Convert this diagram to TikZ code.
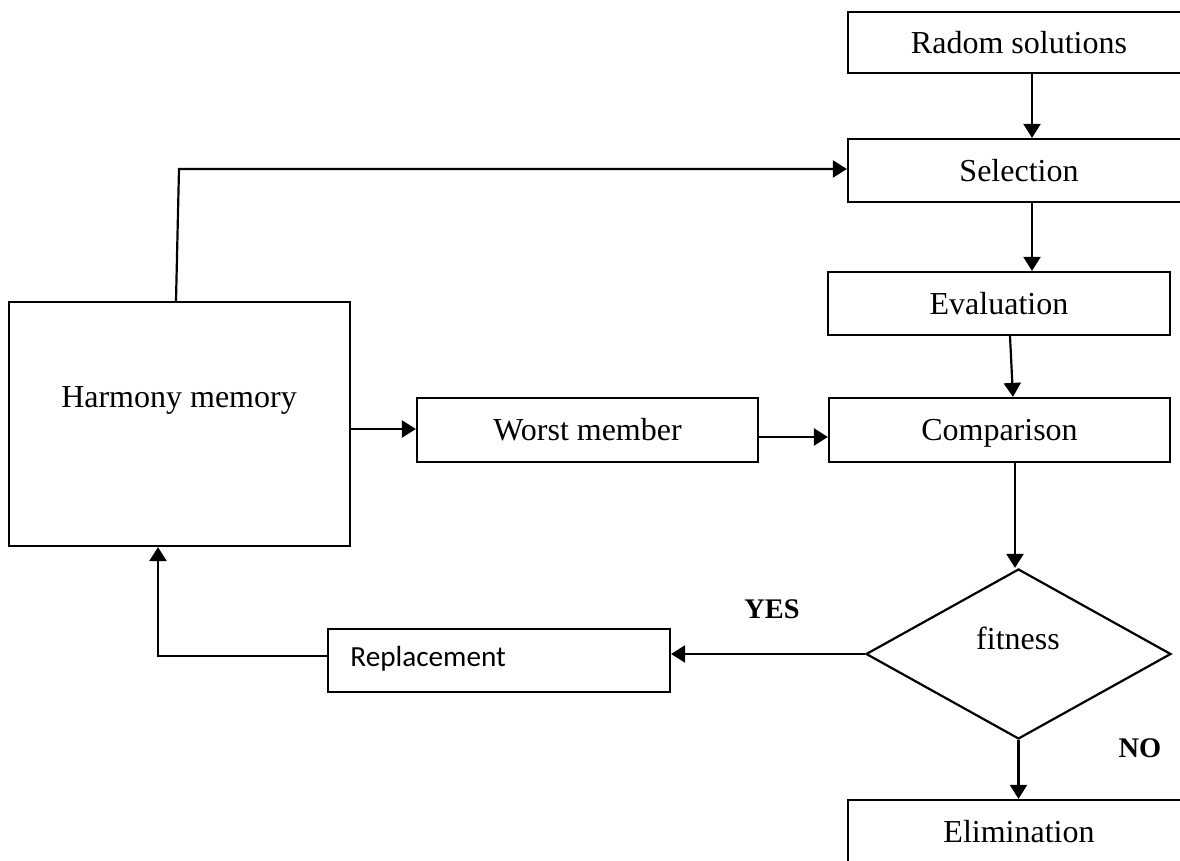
\documentclass[tikz,border=0pt]{standalone}
\usepackage{fontspec}
\setmainfont{Liberation Serif}
\newfontfamily\calib{Carlito}
\usetikzlibrary{shapes.geometric,arrows.meta,calc}
\tikzset{
  box/.style={draw, line width=1.1pt, rectangle, inner sep=0pt, minimum width=171pt, minimum height=31.5pt, text height=12.5pt, text depth=1.5pt, font=\fontsize{16}{19}\selectfont},
  lbl/.style={inner sep=0pt, font=\fontsize{16}{19}\selectfont},
  yn/.style={inner sep=0pt, font=\fontsize{14.2}{17}\selectfont\bfseries},
  arr/.style={line width=1.1pt, -{Triangle[length=7pt,width=8.5pt]}},
  ln/.style={line width=1.1pt}
}
\begin{document}
\begin{tikzpicture}[x=0.5pt,y=-0.5pt]
\useasboundingbox (0,0) rectangle (1180,861);
\clip (0,0) rectangle (1180,861);
\node[box, minimum height=30.5pt] (rad) at (1019,42.5) {Radom solutions};
\node[box] (sel) at (1019,170.5) {Selection};
\node[box] (eva) at (999,303.5) {Evaluation};
\node[box, minimum width=170.5pt, minimum height=32pt] (com) at (999.5,430) {Comparison};
\node[box, minimum width=170.5pt, minimum height=122pt] (hm) at (179.5,424) {};
\node[lbl] (hmt) at (179,400) {Harmony memory};
\node[box, minimum width=170.5pt, minimum height=32pt] (wm) at (587.5,430) {Worst member};
\node[draw, line width=1.1pt, diamond, inner sep=0pt, minimum width=152.5pt, minimum height=85pt] (fit) at (1018.5,654) {};
\node[lbl] (fitt) at (1018,638) {fitness};
\node[box] (rep) at (499,660.5) {};
\node[inner sep=0pt, anchor=west, font=\calib\fontsize{14.6}{17}\selectfont] (rept) at (350,659) {Replacement};
\node[box, minimum height=31pt] (eli) at (1019,831) {Elimination};
\node[yn] (yes) at (772,609) {YES};
\node[yn] (no) at (1140,748) {NO};
\coordinate (bend) at (179,169);

\draw[arr] ([xshift=6.5pt]rad.south) -- ([xshift=6.5pt]sel.north);
\draw[arr] ([xshift=6.5pt]sel.south) -- ([xshift=16.5pt]eva.north);
\draw[arr] ([xshift=5.5pt]eva.south) -- ([xshift=6.75pt]com.north);
\draw[arr] ([xshift=-1.75pt]hm.north) -- (bend) -- (bend -| sel.west);
\draw[arr] ([yshift=-2.5pt]hm.east) -- ([yshift=-2.5pt]hm.east -| wm.west);
\draw[arr] ([yshift=-3.5pt]wm.east) -- ([yshift=-3.5pt]wm.east -| com.west);
\draw[arr] ([xshift=7.75pt]com.south) -- ([xshift=7.75pt]com.south |- fit.north);
\draw[arr] (fit.west) -- (fit.west -| rep.east);
\draw[arr] ([yshift=2.25pt]rep.west) -| ([xshift=-10.75pt]hm.south);
\draw[arr] (fit.south) -- (fit.south |- eli.north);
\end{tikzpicture}
\end{document}
